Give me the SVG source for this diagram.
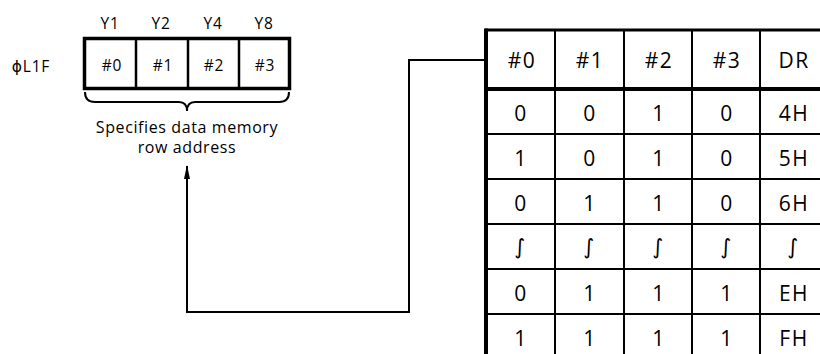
<svg xmlns="http://www.w3.org/2000/svg" width="820" height="354" viewBox="0 0 820 354">
<style>
text{font-family:"Open Sans","DejaVu Sans",sans-serif;fill:#000;text-anchor:middle}
.sm{font-size:16px;letter-spacing:0.6px}
.reg{font-size:15.5px;letter-spacing:0.8px}
.tb{font-size:21px;letter-spacing:1.5px;font-weight:500}
.wv{font-family:"DejaVu Sans",sans-serif;font-size:21px;font-weight:normal;letter-spacing:0}
.ln{stroke:#000;fill:none}
</style>
<defs>
<marker id="ah" viewBox="0 0 14 8" refX="13" refY="4" markerWidth="14" markerHeight="8" markerUnits="userSpaceOnUse" orient="auto">
<path d="M0,1 L14,4 L0,7 Z" fill="#000"/>
</marker>
</defs>
<rect width="820" height="354" fill="#fff"/>
<g id="register">
<text x="31" y="72" class="reg">ϕL1F</text>
<text x="110" y="29" class="reg">Y1</text>
<text x="161" y="29" class="reg">Y2</text>
<text x="213" y="29" class="reg">Y4</text>
<text x="264" y="29" class="reg">Y8</text>
<rect x="84.5" y="38.5" width="205" height="50" class="ln" stroke-width="3.5"/>
<line x1="136" y1="38" x2="136" y2="89" class="ln" stroke-width="2.5"/>
<line x1="188" y1="38" x2="188" y2="89" class="ln" stroke-width="2.5"/>
<line x1="239" y1="38" x2="239" y2="89" class="ln" stroke-width="2.5"/>
<text x="112" y="71" class="reg">#0</text>
<text x="163" y="71" class="reg">#1</text>
<text x="214" y="71" class="reg">#2</text>
<text x="265" y="71" class="reg">#3</text>
<path d="M85,92 Q85,102 95,102 L179,102 Q187,102 187,111 Q187,102 195,102 L279,102 Q289,102 289,92" class="ln" stroke-width="2"/>
<text x="187" y="133" class="sm">Specifies data memory</text>
<text x="187" y="153" class="sm">row address</text>
</g>
<g id="connectors">
<polyline points="485,60 409,60 409,312 187,312 187,166" class="ln" stroke-width="2" marker-end="url(#ah)"/>
</g>
<g id="table">
<g class="ln" stroke-width="2">
<line x1="485" y1="134" x2="820" y2="134"/>
<line x1="485" y1="179" x2="820" y2="179"/>
<line x1="485" y1="224" x2="820" y2="224"/>
<line x1="485" y1="269" x2="820" y2="269"/>
<line x1="485" y1="314" x2="820" y2="314"/>
<line x1="555" y1="29" x2="555" y2="354"/>
<line x1="624" y1="29" x2="624" y2="354"/>
<line x1="692" y1="29" x2="692" y2="354"/>
<line x1="760" y1="29" x2="760" y2="354"/>
</g>
<line x1="485" y1="30" x2="820" y2="30" class="ln" stroke-width="3"/>
<line x1="485" y1="89" x2="820" y2="89" class="ln" stroke-width="4"/>
<line x1="486" y1="28.5" x2="486" y2="354" class="ln" stroke-width="4"/>
<g class="tb">
<text x="522" y="68">#0</text>
<text x="590" y="68">#1</text>
<text x="659" y="68">#2</text>
<text x="727" y="68">#3</text>
<text x="794" y="68">DR</text>
<text x="521" y="121">0</text>
<text x="590" y="121">0</text>
<text x="659" y="121">1</text>
<text x="727" y="121">0</text>
<text x="794" y="121">4H</text>
<text x="521" y="166">1</text>
<text x="590" y="166">0</text>
<text x="659" y="166">1</text>
<text x="727" y="166">0</text>
<text x="794" y="166">5H</text>
<text x="521" y="211">0</text>
<text x="590" y="211">1</text>
<text x="659" y="211">1</text>
<text x="727" y="211">0</text>
<text x="794" y="211">6H</text>
<text x="520" y="254" class="wv">∫</text>
<text x="589" y="254" class="wv">∫</text>
<text x="658" y="254" class="wv">∫</text>
<text x="726" y="254" class="wv">∫</text>
<text x="793" y="254" class="wv">∫</text>
<text x="521" y="301">0</text>
<text x="590" y="301">1</text>
<text x="659" y="301">1</text>
<text x="727" y="301">1</text>
<text x="794" y="301">EH</text>
<text x="521" y="346">1</text>
<text x="590" y="346">1</text>
<text x="659" y="346">1</text>
<text x="727" y="346">1</text>
<text x="794" y="346">FH</text>
</g>
</g>
</svg>
